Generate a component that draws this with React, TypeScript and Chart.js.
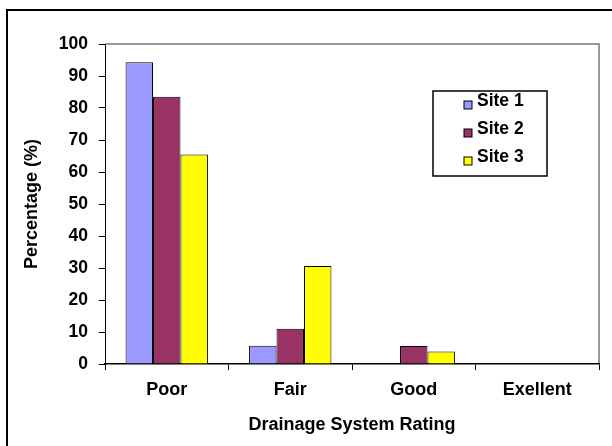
import React, { useEffect, useRef } from 'react';
import { Chart, registerables, Plugin } from 'chart.js';

Chart.register(...registerables);

const ratings = ['Poor', 'Fair', 'Good', 'Exellent'];
const site1 = [94.3, 5.7, 0, 0];
const site2 = [83.5, 11.0, 5.6, 0];
const site3 = [65.5, 30.6, 3.9, 0];
const siteNames = ['Site 1', 'Site 2', 'Site 3'];
const siteColors = ['#9999FF', '#993366', '#FFFF00'];

const FONT = '"Liberation Sans", Arial, sans-serif';

// white page, the black frame and the grey top/right edges of the plot area
const framePlugin: Plugin<'bar'> = {
  id: 'frame',
  beforeDraw(chart) {
    const { ctx, width, height, chartArea } = chart;
    ctx.save();
    ctx.fillStyle = '#ffffff';
    ctx.fillRect(0, 0, width, height);
    ctx.strokeStyle = '#000000';
    ctx.lineWidth = 2;
    ctx.beginPath();
    ctx.moveTo(7, height);
    ctx.lineTo(7, 10);
    ctx.lineTo(width, 10);
    ctx.stroke();
    ctx.strokeStyle = '#999999';
    ctx.lineWidth = 2;
    ctx.beginPath();
    ctx.moveTo(chartArea.left, chartArea.top);
    ctx.lineTo(chartArea.right, chartArea.top);
    ctx.lineTo(chartArea.right, chartArea.bottom);
    ctx.stroke();
    ctx.restore();
  },
};

// boxed legend inside the plot, like the spreadsheet one
const boxLegend: Plugin<'bar'> = {
  id: 'boxLegend',
  afterDraw(chart) {
    const { ctx } = chart;
    const x = 433, y = 91, w = 114, h = 85;
    ctx.save();
    ctx.fillStyle = '#ffffff';
    ctx.fillRect(x, y, w, h);
    ctx.strokeStyle = '#000000';
    ctx.lineWidth = 1.5;
    ctx.strokeRect(x, y, w, h);
    ctx.font = `bold 17.5px ${FONT}`;
    ctx.textBaseline = 'middle';
    ctx.textAlign = 'left';
    chart.data.datasets.forEach((ds, i) => {
      const cy = 101 + i * 28;
      ctx.fillStyle = ds.backgroundColor as string;
      ctx.fillRect(464, cy, 8, 8);
      ctx.lineWidth = 1;
      ctx.strokeStyle = '#000000';
      ctx.strokeRect(464, cy, 8, 8);
      ctx.fillStyle = '#000000';
      ctx.fillText(ds.label || '', 477, cy);
    });
    ctx.restore();
  },
};

const App: React.FC = () => {
  const canvasRef = useRef<HTMLCanvasElement>(null);

  useEffect(() => {
    if (!canvasRef.current) return;
    const series = [site1, site2, site3];
    const chart = new Chart(canvasRef.current, {
      type: 'bar',
      data: {
        labels: ratings,
        datasets: series.map((data, i) => ({
          label: siteNames[i],
          data,
          backgroundColor: siteColors[i],
          borderColor: '#000000',
          borderWidth: 1,
          categoryPercentage: 0.667,
          barPercentage: 1,
        })),
      },
      options: {
        animation: false,
        responsive: true,
        maintainAspectRatio: false,
        layout: { padding: { top: 44, right: 13, left: 0, bottom: 0 } },
        plugins: {
          legend: { display: false },
          tooltip: { enabled: false },
        },
        scales: {
          x: {
            grid: { offset: true, drawOnChartArea: false, color: '#000000', tickLength: 6 },
            border: { color: '#000000', width: 1.5 },
            ticks: { color: '#000000', padding: 9, font: { family: FONT, size: 18, weight: 'bold' } },
            title: {
              display: true,
              text: 'Drainage System Rating',
              color: '#000000',
              padding: { top: 0, bottom: 10 },
              font: { family: FONT, size: 18, weight: 'bold' },
            },
            afterFit(scale) { scale.height = 82; },
          },
          y: {
            min: 0,
            max: 100,
            grid: { drawOnChartArea: false, color: '#000000', tickLength: 6 },
            border: { color: '#000000', width: 1 },
            ticks: { stepSize: 10, color: '#000000', padding: 11, font: { family: FONT, size: 17.5, weight: 'bold' } },
            title: {
              display: true,
              text: 'Percentage (%)',
              color: '#000000',
              padding: { top: 21, bottom: 0 },
              font: { family: FONT, size: 18, weight: 'bold' },
            },
            afterFit(scale) { scale.width = 105; },
          },
        },
      },
      plugins: [framePlugin, boxLegend],
    });
    return () => chart.destroy();
  }, []);

  return (
    <div style={{ position: 'fixed', left: 0, top: 0, width: 612, height: 446 }}>
      <canvas ref={canvasRef}></canvas>
    </div>
  );
};

export default App;
